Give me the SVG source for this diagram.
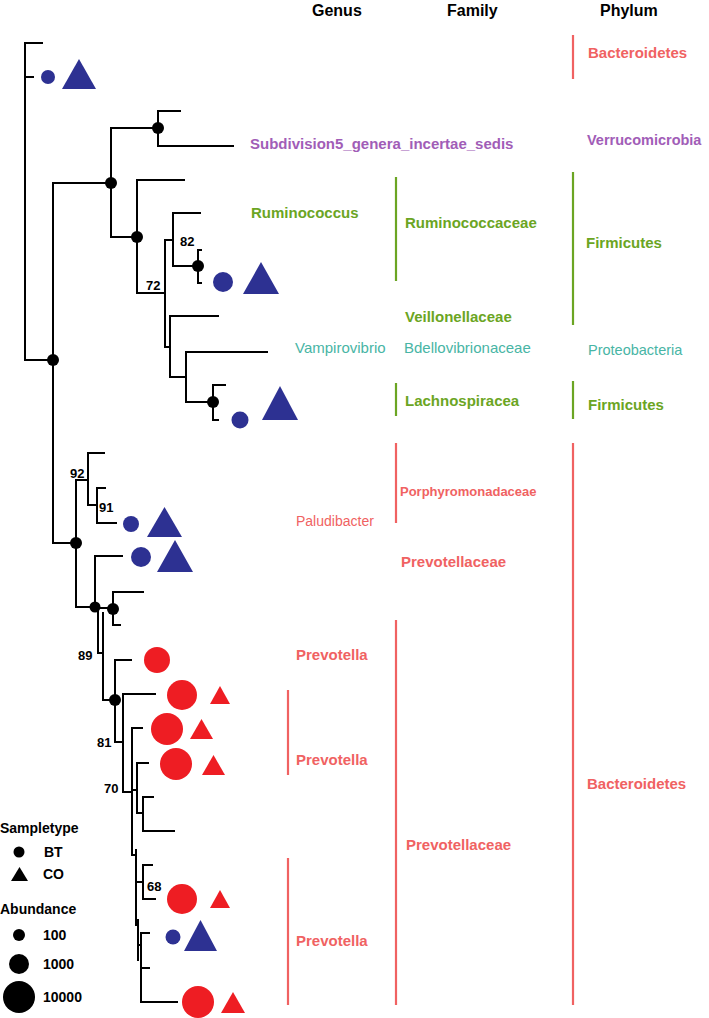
<svg xmlns="http://www.w3.org/2000/svg" width="709" height="1018" viewBox="0 0 709 1018">
<style>
.e{fill:none;stroke:#000;stroke-width:2;stroke-linecap:square}
.d{fill:#000}
.b{fill:#2D3192}
.r{fill:#EE1D23}
.t{font-family:"Liberation Sans",Arial,sans-serif;font-weight:bold}
.n{font-family:"Liberation Sans",Arial,sans-serif;font-weight:bold;font-size:13px;fill:#000}
.h{font-size:16px;fill:#000}
.lab{font-size:15px}
.reg{font-family:"Liberation Sans",Arial,sans-serif;font-weight:normal}
.red{fill:#F06262}
.grn{fill:#6BA523}
.teal{fill:#48B5A5}
.pur{fill:#A15DB7}
.br{stroke-width:2.2;fill:none}
.brr{stroke:#F06262}
.brg{stroke:#6BA523}
.leg{font-size:14px;fill:#000}
</style>

<g id="headers">
<text class="t h" x="312" y="16">Genus</text>
<text class="t h" x="447" y="16">Family</text>
<text class="t h" x="600" y="16">Phylum</text>
</g>

<g id="connectors">
<path class="e" d="M25,43V360M25,43H42M25,77H33M25,360H53
M53,183V543M53,183H111
M111,128V237M111,128H158
M158,111V146M158,111H180M158,146H233
M111,237H137M137,180V293M137,180H184M137,293H165
M165,240V347M165,240H173
M173,213V266M173,213H200M173,266H198
M198,250V283M198,250H201M198,283H201
M165,347H170M170,316V377M170,316H218M170,377H186
M186,352V402M186,352H267M186,402H213
M213,385V420M213,385H225M213,420H218
M53,543H76M76,480V607M76,480H88
M88,453V505M88,453H104M88,505H97
M97,488V523M97,488H105M97,523H116
M76,607H95M95,556V607M95,556H122M95,608H113
M113,592V625M113,592H143M113,625H120
M98,608V653H103M103,613V700M103,700H115
M115,660V742M115,660H131M115,742H123
M123,694V792M123,694H155M123,792H132
M132,728V855M132,728H142
M132,790H137M137,763V813M137,763H148M137,813H143
M143,797V831M143,797H153M143,831H174
M132,855H136M136,850V925
M136,882H143M143,865V899M143,865H152M143,899H155
M136,925H138M138,920V960
M138,945H141M141,933V1002M141,933H149M141,968H149M141,1002H177"/>
</g>

<g id="support-dots">
<circle class="d" cx="158" cy="128" r="6"/>
<circle class="d" cx="111" cy="183" r="6"/>
<circle class="d" cx="137" cy="237" r="6"/>
<circle class="d" cx="198" cy="266" r="6"/>
<circle class="d" cx="53" cy="360" r="6"/>
<circle class="d" cx="213" cy="402" r="6"/>
<circle class="d" cx="76" cy="543" r="6"/>
<circle class="d" cx="95" cy="607" r="5.5"/>
<circle class="d" cx="113" cy="609" r="6"/>
<circle class="d" cx="115" cy="700" r="6"/>
</g>

<g id="bootstrap">
<text class="n" x="180" y="246">82</text>
<text class="n" x="146" y="290">72</text>
<text class="n" x="70" y="478">92</text>
<text class="n" x="99" y="512">91</text>
<text class="n" x="78" y="660">89</text>
<text class="n" x="97" y="747">81</text>
<text class="n" x="104" y="793">70</text>
<text class="n" x="147" y="891">68</text>
</g>

<g id="markers">
<circle class="b" cx="48" cy="77" r="7"/>
<polygon class="b" points="79,59 62,89 96,89"/>
<circle class="b" cx="223" cy="282" r="10"/>
<polygon class="b" points="261,262 243,294 279,294"/>
<circle class="b" cx="240" cy="420" r="8.5"/>
<polygon class="b" points="280,386 262,420 298,420"/>
<circle class="b" cx="131" cy="524" r="8"/>
<polygon class="b" points="164.5,507 147,537 182,537"/>
<circle class="b" cx="141" cy="557" r="10"/>
<polygon class="b" points="175,540 157,572 193,572"/>
<circle class="r" cx="157" cy="660" r="13"/>
<circle class="r" cx="182" cy="695" r="15"/>
<polygon class="r" points="220,686 210,704 230,704"/>
<circle class="r" cx="167" cy="729" r="16"/>
<polygon class="r" points="201.5,719 190,739 213,739"/>
<circle class="r" cx="176" cy="764" r="16"/>
<polygon class="r" points="213.5,755 202,775 225,775"/>
<circle class="r" cx="182" cy="899" r="15"/>
<polygon class="r" points="220,890 210,908 230,908"/>
<circle class="b" cx="173" cy="937" r="7.5"/>
<polygon class="b" points="200.5,920 184,951 217,951"/>
<circle class="r" cx="198" cy="1002" r="16"/>
<polygon class="r" points="233,992 221,1013 245,1013"/>
</g>

<g id="brackets">
<line class="br brr" x1="573" y1="35" x2="573" y2="79"/>
<line class="br brg" x1="396" y1="177" x2="396" y2="281"/>
<line class="br brg" x1="573" y1="172" x2="573" y2="325"/>
<line class="br brg" x1="396" y1="383" x2="396" y2="416"/>
<line class="br brg" x1="573" y1="381" x2="573" y2="419"/>
<line class="br brr" x1="396" y1="443" x2="396" y2="523"/>
<line class="br brr" x1="573" y1="443" x2="573" y2="1005"/>
<line class="br brr" x1="396" y1="620" x2="396" y2="1005"/>
<line class="br brr" x1="288" y1="690" x2="288" y2="775"/>
<line class="br brr" x1="288" y1="858" x2="288" y2="1005"/>
</g>

<g id="labels">
<text class="t lab red" x="588" y="58">Bacteroidetes</text>
<text class="t lab pur" x="250" y="149">Subdivision5_genera_incertae_sedis</text>
<text class="t pur" x="587" y="145" font-size="14.5">Verrucomicrobia</text>
<text class="t lab grn" x="251" y="218">Ruminococcus</text>
<text class="t lab grn" x="405" y="228">Ruminococcaceae</text>
<text class="t lab grn" x="586" y="248">Firmicutes</text>
<text class="t lab grn" x="405" y="322">Veillonellaceae</text>
<text class="reg lab teal" x="295" y="353">Vampirovibrio</text>
<text class="reg lab teal" x="404" y="353">Bdellovibrionaceae</text>
<text class="reg teal" x="588" y="355" font-size="14.5">Proteobacteria</text>
<text class="t lab grn" x="405" y="406">Lachnospiracea</text>
<text class="t lab grn" x="588" y="410">Firmicutes</text>
<text class="t red" x="400" y="496" font-size="13">Porphyromonadaceae</text>
<text class="reg red" x="296" y="526" font-size="14">Paludibacter</text>
<text class="t lab red" x="401" y="567">Prevotellaceae</text>
<text class="t lab red" x="296" y="660">Prevotella</text>
<text class="t lab red" x="296" y="765">Prevotella</text>
<text class="t lab red" x="587" y="789">Bacteroidetes</text>
<text class="t lab red" x="406" y="850">Prevotellaceae</text>
<text class="t lab red" x="296" y="946">Prevotella</text>
</g>

<g id="legend">
<text class="t leg" x="0" y="833">Sampletype</text>
<circle class="d" cx="19" cy="852" r="5.5"/>
<text class="t leg" x="44" y="857">BT</text>
<polygon class="d" points="19.5,867 11,881 28,881"/>
<text class="t leg" x="43" y="879">CO</text>
<text class="t leg" x="0" y="914">Abundance</text>
<circle class="d" cx="19" cy="935" r="6"/>
<text class="t leg" x="43" y="940">100</text>
<circle class="d" cx="19" cy="964" r="10"/>
<text class="t leg" x="43" y="969">1000</text>
<circle class="d" cx="19" cy="997" r="16"/>
<text class="t leg" x="43" y="1002">10000</text>
</g>
</svg>
